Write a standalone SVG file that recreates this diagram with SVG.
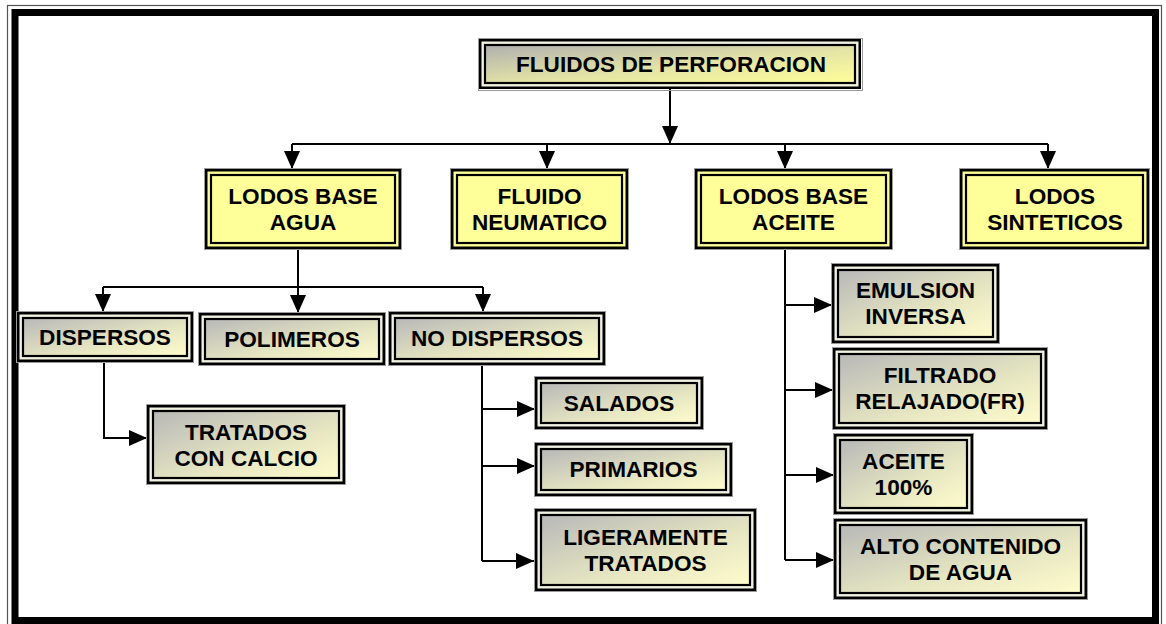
<svg xmlns="http://www.w3.org/2000/svg" width="1166" height="624" viewBox="0 0 1166 624">
<defs>
<linearGradient id="gGray" x1="0" y1="0" x2="1" y2="1">
<stop offset="0" stop-color="#b8b8b8"/>
<stop offset="0.6" stop-color="#e6e6c2"/>
<stop offset="1" stop-color="#fffccc"/>
</linearGradient>
<linearGradient id="gTop" x1="0" y1="0" x2="1" y2="1">
<stop offset="0" stop-color="#b0b0b0"/>
<stop offset="0.55" stop-color="#e4e4a6"/>
<stop offset="1" stop-color="#ffff99"/>
</linearGradient>
<marker id="arr" markerUnits="userSpaceOnUse" markerWidth="18" markerHeight="16" refX="18" refY="8" orient="auto">
<path d="M0,0 L18,8 L0,16 z" fill="#000"/>
</marker>
<style>
.halo{fill:none;stroke:#9a9a9a;stroke-width:1}
.o{stroke:#000;stroke-width:2.5}
.og{fill:#f2f2e2}
.oy{fill:#ffff99}
.i{stroke:#000;stroke-width:2.2}
.ig{fill:url(#gGray)}
.it{fill:url(#gTop)}
.iy{fill:#ffff99}
text{font-family:"Liberation Sans",Arial,sans-serif;font-weight:bold;font-size:22.6px;fill:#000;text-anchor:middle}
.c{fill:none;stroke:#000;stroke-width:2}
</style>
</defs>
<rect width="1166" height="624" fill="#fff"/>
<g id="frame">
<rect x="7.5" y="5.5" width="1154" height="622" fill="none" stroke="#555" stroke-width="1.2"/>
<rect x="15" y="12.5" width="1140.5" height="608" fill="none" stroke="#000" stroke-width="7"/>
</g>
<g id="connectors">
<path class="c" d="M670,89 V144" marker-end="url(#arr)"/>
<path class="c" d="M292,144 H1048"/>
<path class="c" d="M292,144 V169" marker-end="url(#arr)"/>
<path class="c" d="M547,144 V169" marker-end="url(#arr)"/>
<path class="c" d="M785,144 V169" marker-end="url(#arr)"/>
<path class="c" d="M1048,144 V169" marker-end="url(#arr)"/>
<path class="c" d="M298,249 V287"/>
<path class="c" d="M103,287 H483"/>
<path class="c" d="M103,287 V312" marker-end="url(#arr)"/>
<path class="c" d="M298,287 V313" marker-end="url(#arr)"/>
<path class="c" d="M483,287 V312" marker-end="url(#arr)"/>
<path class="c" d="M104,362 V438 H147" marker-end="url(#arr)"/>
<path class="c" d="M482,365 V561"/>
<path class="c" d="M482,409 H535" marker-end="url(#arr)"/>
<path class="c" d="M482,466 H535" marker-end="url(#arr)"/>
<path class="c" d="M482,561 H534" marker-end="url(#arr)"/>
<path class="c" d="M785,249 V560"/>
<path class="c" d="M785,305 H832" marker-end="url(#arr)"/>
<path class="c" d="M785,390 H833" marker-end="url(#arr)"/>
<path class="c" d="M785,475 H834" marker-end="url(#arr)"/>
<path class="c" d="M785,560 H834" marker-end="url(#arr)"/>
</g>
<g id="n-fluidos">
<rect class="halo" x="478.5" y="38.5" width="384" height="52"/>
<rect class="o og" x="480.25" y="40.25" width="379.5" height="47.5"/>
<rect class="i it" x="485" y="45" width="370" height="38"/>
<text x="671" y="72">FLUIDOS DE PERFORACION</text>
</g>
<g id="n-agua">
<rect class="halo" x="204.5" y="168.5" width="197" height="81"/>
<rect class="o oy" x="206.25" y="170.25" width="193.5" height="77.5"/>
<rect class="i iy" x="211" y="175" width="184" height="68"/>
<text x="303" y="204">LODOS BASE</text>
<text x="303" y="230">AGUA</text>
</g>
<g id="n-neumatico">
<rect class="halo" x="450.5" y="168.5" width="178" height="81"/>
<rect class="o oy" x="452.25" y="170.25" width="174.5" height="77.5"/>
<rect class="i iy" x="457" y="175" width="165" height="68"/>
<text x="539.5" y="204">FLUIDO</text>
<text x="539.5" y="230">NEUMATICO</text>
</g>
<g id="n-aceite">
<rect class="halo" x="694.5" y="168.5" width="198" height="81"/>
<rect class="o oy" x="696.25" y="170.25" width="194.5" height="77.5"/>
<rect class="i iy" x="701" y="175" width="185" height="68"/>
<text x="793.5" y="204">LODOS BASE</text>
<text x="793.5" y="230">ACEITE</text>
</g>
<g id="n-sinteticos">
<rect class="halo" x="959.5" y="168.5" width="190" height="81"/>
<rect class="o oy" x="961.25" y="170.25" width="186.5" height="77.5"/>
<rect class="i iy" x="966" y="175" width="177" height="68"/>
<text x="1055" y="204">LODOS</text>
<text x="1055" y="230">SINTETICOS</text>
</g>
<g id="n-dispersos">
<rect class="halo" x="16.5" y="311.5" width="177" height="51"/>
<rect class="o og" x="18.25" y="313.25" width="173.5" height="47.5"/>
<rect class="i ig" x="23" y="318" width="164" height="38"/>
<text x="105" y="345">DISPERSOS</text>
</g>
<g id="n-polimeros">
<rect class="halo" x="198.5" y="312.5" width="187" height="53"/>
<rect class="o og" x="200.25" y="314.25" width="183.5" height="49.5"/>
<rect class="i ig" x="205" y="319" width="174" height="40"/>
<text x="292" y="347">POLIMEROS</text>
</g>
<g id="n-nodispersos">
<rect class="halo" x="388.5" y="311.5" width="217" height="54"/>
<rect class="o og" x="390.25" y="313.25" width="213.5" height="50.5"/>
<rect class="i ig" x="395" y="318" width="204" height="41"/>
<text x="497" y="346">NO DISPERSOS</text>
</g>
<g id="n-calcio">
<rect class="halo" x="146.5" y="404.5" width="199" height="80"/>
<rect class="o og" x="148.25" y="406.25" width="195.5" height="76.5"/>
<rect class="i ig" x="153" y="411" width="186" height="67"/>
<text x="246" y="440">TRATADOS</text>
<text x="246" y="466">CON CALCIO</text>
</g>
<g id="n-salados">
<rect class="halo" x="534.5" y="376.5" width="169" height="53"/>
<rect class="o og" x="536.25" y="378.25" width="165.5" height="49.5"/>
<rect class="i ig" x="541" y="383" width="156" height="40"/>
<text x="619" y="411">SALADOS</text>
</g>
<g id="n-primarios">
<rect class="halo" x="534.5" y="442.5" width="198" height="54"/>
<rect class="o og" x="536.25" y="444.25" width="194.5" height="50.5"/>
<rect class="i ig" x="541" y="449" width="185" height="41"/>
<text x="633.5" y="477">PRIMARIOS</text>
</g>
<g id="n-ligeramente">
<rect class="halo" x="534.5" y="508.5" width="222" height="83"/>
<rect class="o og" x="536.25" y="510.25" width="218.5" height="79.5"/>
<rect class="i ig" x="541" y="515" width="209" height="70"/>
<text x="645.5" y="545">LIGERAMENTE</text>
<text x="645.5" y="571">TRATADOS</text>
</g>
<g id="n-emulsion">
<rect class="halo" x="831.5" y="263.5" width="168" height="80"/>
<rect class="o og" x="833.25" y="265.25" width="164.5" height="76.5"/>
<rect class="i ig" x="838" y="270" width="155" height="67"/>
<text x="915.5" y="298">EMULSION</text>
<text x="915.5" y="324">INVERSA</text>
</g>
<g id="n-filtrado">
<rect class="halo" x="832.5" y="347.5" width="215" height="82"/>
<rect class="o og" x="834.25" y="349.25" width="211.5" height="78.5"/>
<rect class="i ig" x="839" y="354" width="202" height="69"/>
<text x="940" y="383">FILTRADO</text>
<text x="940" y="409">RELAJADO(FR)</text>
</g>
<g id="n-aceite100">
<rect class="halo" x="833.5" y="433.5" width="140" height="81"/>
<rect class="o og" x="835.25" y="435.25" width="136.5" height="77.5"/>
<rect class="i ig" x="840" y="440" width="127" height="68"/>
<text x="903.5" y="469">ACEITE</text>
<text x="903.5" y="495">100%</text>
</g>
<g id="n-alto">
<rect class="halo" x="833.5" y="518.5" width="254" height="81"/>
<rect class="o og" x="835.25" y="520.25" width="250.5" height="77.5"/>
<rect class="i ig" x="840" y="525" width="241" height="68"/>
<text x="960.5" y="554">ALTO CONTENIDO</text>
<text x="960.5" y="580">DE AGUA</text>
</g>
</svg>
